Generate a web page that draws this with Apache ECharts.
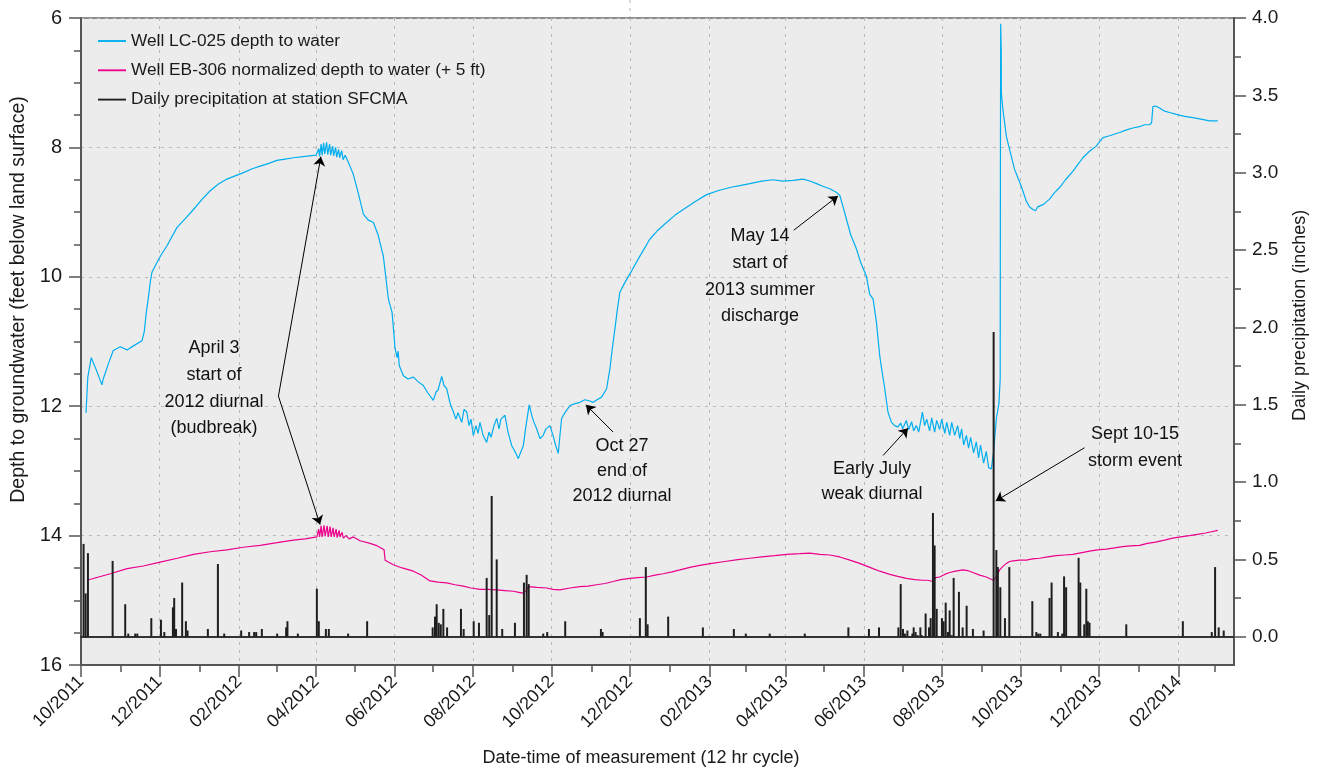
<!DOCTYPE html>
<html><head><meta charset="utf-8">
<script src="https://cdn.jsdelivr.net/npm/echarts@6/dist/echarts.min.js"></script>
<style>html,body{margin:0;padding:0;background:#fff}#c{width:1320px;height:772px}</style>
</head><body><div id="c"></div>
<script>
const FONT = '"Liberation Sans", Arial, Helvetica, sans-serif';

// x values are days since 2011-10-01
const tickLabels = ['10/2011','12/2011','02/2012','04/2012','06/2012','08/2012','10/2012','12/2012','02/2013','04/2013','06/2013','08/2013','10/2013','12/2013','02/2014'];
const minorTickLabels = ['11/2011','01/2012','03/2012','05/2012','07/2012','09/2012','11/2012','01/2013','03/2013','05/2013','07/2013','09/2013','11/2013','01/2014','03/2014'];

const seriesNames = ['Well LC-025 depth to water','Well EB-306 normalized depth to water (+ 5 ft)','Daily precipitation at station SFCMA'];

// Well LC-025 depth to water (ft)
const lc025 = [
[3.9,12.10],[5.3,11.55],[8.0,11.25],[11.1,11.40],[16.3,11.67],[17.3,11.58],[21.2,11.35],[25.1,11.14],[30.6,11.08],[35.8,11.13],
[41.4,11.06],[47.4,10.99],[49.2,10.85],[50.8,10.55],[52.3,10.34],[53.9,10.08],[55.2,9.93],[59.1,9.78],[62.4,9.66],[66.9,9.52],
[74.6,9.24],[81.1,9.10],[87.5,8.96],[94.3,8.80],[100.5,8.67],[106.7,8.57],[113.5,8.49],[119.9,8.44],[126.4,8.39],[133.2,8.33],
[139.4,8.29],[145.6,8.25],[152.4,8.20],[158.8,8.18],[165.3,8.16],[174.4,8.14],[182.9,8.12],
[184.9,8.02],[185.6,8.14],[186.8,7.95],[187.6,8.12],[188.8,7.93],[189.6,8.10],[191.1,7.92],[191.9,8.11],[193.4,7.95],[194.2,8.12],
[195.8,7.98],[196.5,8.13],[198.1,8.00],[198.9,8.15],[200.4,8.03],[201.2,8.16],[202.8,8.05],[203.9,8.19],[205.5,8.12],[207.8,8.22],
[211.9,8.42],[215.6,8.70],[219.7,9.03],[223.3,9.12],[227.5,9.16],[231.1,9.35],[235.2,9.68],[237.3,10.03],[239.1,10.34],[242.0,10.55],
[244.3,11.10],[245.9,11.25],[246.7,11.15],[247.6,11.37],[250.8,11.53],[254.4,11.58],[258.6,11.55],[262.2,11.62],[266.3,11.68],[270.0,11.80],
[274.1,11.91],[276.2,11.78],[277.8,11.75],[280.6,11.54],[282.4,11.68],[284.5,11.73],[287.1,11.95],[289.7,12.09],[291.7,12.20],[293.3,12.10],
[296.2,12.25],[298.0,12.05],[300.1,12.09],[301.9,12.30],[303.4,12.20],[305.2,12.45],[307.3,12.30],[308.9,12.42],[310.4,12.25],[312.8,12.45],
[315.6,12.56],[317.4,12.40],[319.0,12.48],[321.3,12.30],[323.4,12.19],[325.2,12.35],[326.7,12.20],[329.8,12.14],[332.2,12.40],[335.1,12.61],
[337.6,12.70],[340.2,12.81],[342.3,12.70],[344.1,12.61],[346.2,12.30],[348.7,11.98],[350.8,12.15],[352.4,12.25],[354.5,12.35],[357.1,12.50],
[359.6,12.45],[361.7,12.35],[364.8,12.30],[367.2,12.45],[369.5,12.62],[371.3,12.73],[372.6,12.45],[373.9,12.19],[376.5,12.10],[380.4,11.99],
[384.3,11.96],[388.1,11.94],[392.0,11.90],[395.9,11.92],[398.5,11.94],[401.4,11.90],[405.0,11.86],[408.9,11.73],[411.5,11.42],[413.4,11.10],
[415.4,10.80],[417.3,10.50],[419.2,10.24],[423.1,10.09],[428.6,9.90],[434.8,9.68],[442.5,9.42],[448.8,9.28],[455.5,9.16],[462.0,9.05],
[468.5,8.96],[477.6,8.84],[486.7,8.73],[495.4,8.67],[504.8,8.62],[512.5,8.59],[520.3,8.56],[529.6,8.52],[538.4,8.50],[546.0,8.52],
[554.0,8.51],[561.8,8.49],[567.0,8.52],[572.2,8.56],[577.1,8.60],[582.5,8.64],[587.2,8.69],[590.3,8.74],[592.6,8.90],[595.5,9.11],
[598.8,9.35],[603.3,9.57],[606.6,9.78],[611.0,9.99],[613.6,10.27],[616.2,10.34],[618.8,10.70],[621.4,11.22],[622.7,11.40],[625.3,11.73],
[627.8,12.09],[630.5,12.25],[633.0,12.30],[635.6,12.32],[637.7,12.26],[639.2,12.35],[642.1,12.22],[643.9,12.36],[646.2,12.24],[647.8,12.38],
[649.9,12.30],[651.7,12.40],[654.6,12.09],[656.3,12.30],[657.9,12.20],[660.2,12.38],[661.8,12.18],[664.1,12.40],[665.7,12.22],[668.0,12.36],
[669.6,12.20],[672.0,12.42],[673.5,12.25],[675.8,12.45],[677.4,12.25],[679.7,12.45],[682.0,12.30],[683.6,12.50],[685.1,12.35],[686.7,12.60],
[688.8,12.45],[690.5,12.65],[692.1,12.48],[694.4,12.72],[696.5,12.55],[698.3,12.80],[699.8,12.60],[702.2,12.88],[704.3,12.70],[706.1,12.95],
[708.2,12.97],[710.0,12.70],[712.1,12.19],[714.1,11.96],[715.1,11.58],[715.3,8.00],[715.5,6.09],[715.9,6.50],[716.0,7.16],[717.2,7.41],
[719.9,7.83],[722.4,8.03],[726.3,8.34],[731.5,8.60],[735.4,8.83],[738.0,8.92],[740.6,8.96],[742.6,8.98],[744.2,8.92],[745.7,8.95],
[748.8,8.88],[753.5,8.80],[757.4,8.70],[761.3,8.62],[765.9,8.50],[771.6,8.37],[775.3,8.27],[779.4,8.16],[784.6,8.06],[789.8,7.98],
[795.0,7.85],[800.2,7.82],[808.0,7.77],[813.4,7.73],[818.3,7.70],[823.5,7.68],[827.4,7.65],[831.3,7.65],[832.9,7.62],[833.9,7.37],
[836.0,7.36],[839.1,7.39],[843.0,7.44],[846.9,7.46],[852.1,7.49],[858.6,7.52],[865.0,7.54],[870.2,7.56],[878.0,7.59],[884.4,7.59]
];

// Well EB-306 normalized depth to water (+5 ft)
const eb306 = [
[4.7,14.69],[22.8,14.59],[35.8,14.51],[48.4,14.47],[61.6,14.41],[74.9,14.35],[87.5,14.29],[100.5,14.25],[113.5,14.22],[126.2,14.18],
[139.4,14.15],[152.6,14.11],[165.3,14.07],[174.4,14.05],[183.5,14.02],
[184.9,13.90],[185.6,14.02],[186.8,13.85],[187.6,14.02],[189.1,13.84],[189.9,14.01],[191.5,13.85],[192.3,14.02],[193.8,13.86],[194.6,14.02],
[196.1,13.88],[196.9,14.02],[198.5,13.90],[199.2,14.03],[200.8,13.92],[201.5,14.02],[203.1,13.95],[204.1,14.04],[206.2,14.00],[208.6,14.05],
[211.9,14.02],[217.1,14.08],[224.9,14.12],[229.5,14.15],[234.0,14.20],[235.8,14.22],[236.6,14.38],[243.0,14.45],[249.8,14.50],[258.6,14.55],
[264.6,14.61],[271.5,14.70],[277.8,14.72],[284.5,14.73],[291.0,14.76],[297.4,14.78],[303.4,14.81],[310.4,14.83],[316.6,14.83],[323.4,14.84],
[329.8,14.85],[336.3,14.86],[341.5,14.88],[344.1,14.89],[346.2,14.85],[348.0,14.79],[354.7,14.80],[362.3,14.81],[367.2,14.83],[372.6,14.84],
[380.4,14.81],[388.1,14.79],[394.4,14.78],[401.1,14.76],[407.6,14.74],[414.0,14.71],[420.0,14.68],[427.0,14.66],[433.2,14.65],[440.0,14.64],
[446.5,14.61],[452.9,14.59],[459.7,14.56],[465.9,14.53],[473.7,14.49],[481.4,14.46],[490.8,14.43],[500.9,14.40],[511.0,14.37],[520.3,14.35],
[529.6,14.33],[539.7,14.31],[549.1,14.29],[559.2,14.28],[567.0,14.27],[574.7,14.29],[582.5,14.30],[590.3,14.33],[598.1,14.38],[605.8,14.43],
[616.2,14.51],[621.4,14.55],[629.2,14.60],[635.4,14.63],[642.1,14.66],[648.6,14.68],[655.0,14.69],[658.7,14.69],[662.8,14.71],[664.9,14.65],
[668.0,14.64],[671.9,14.60],[675.8,14.57],[680.4,14.55],[686.1,14.53],[689.8,14.54],[693.9,14.57],[699.1,14.61],[704.3,14.64],[707.6,14.67],
[710.0,14.69],[712.4,14.62],[714.7,14.53],[717.0,14.48],[719.9,14.43],[722.4,14.40],[725.0,14.39],[730.2,14.38],[735.4,14.38],[740.3,14.36],
[745.7,14.35],[752.0,14.33],[758.7,14.31],[765.2,14.30],[771.6,14.29],[776.8,14.27],[784.6,14.24],[790.8,14.22],[797.6,14.21],[804.0,14.19],
[810.2,14.17],[816.4,14.16],[823.5,14.15],[829.7,14.12],[835.9,14.10],[842.9,14.07],[849.4,14.04],[855.4,14.02],[862.4,14.00],[868.6,13.98],
[874.8,13.96],[879.4,13.94],[884.4,13.92]
];

// Daily precipitation (inches)
const precip = [
[2.0,0.60],[3.6,0.28],[5.4,0.54],[24.6,0.49],[34.4,0.21],[36.8,0.02],[42.2,0.02],[43.8,0.02],[54.7,0.12],[62.2,0.11],
[64.8,0.03],[71.5,0.19],[72.5,0.25],[73.9,0.05],[78.7,0.35],[81.6,0.10],[82.9,0.04],[98.7,0.05],[106.5,0.47],[111.4,0.02],
[124.6,0.04],[130.8,0.03],[134.7,0.03],[136.3,0.03],[140.7,0.05],[152.6,0.02],[159.6,0.06],[160.6,0.10],[168.7,0.02],[183.5,0.31],
[185.0,0.10],[190.5,0.05],[192.8,0.05],[207.8,0.02],[222.6,0.10],[273.6,0.06],[275.4,0.13],[276.7,0.21],[278.3,0.09],[279.9,0.08],
[281.9,0.18],[284.8,0.06],[295.6,0.18],[297.7,0.05],[305.5,0.10],[309.6,0.09],[315.6,0.38],[317.6,0.14],[319.5,0.91],[323.4,0.50],
[327.7,0.05],[337.6,0.09],[344.6,0.35],[346.7,0.40],[348.3,0.34],[359.6,0.02],[362.7,0.03],[376.7,0.10],[404.5,0.05],[405.8,0.03],
[434.8,0.12],[439.4,0.45],[440.8,0.08],[456.8,0.13],[483.8,0.06],[507.9,0.05],[517.2,0.02],[535.8,0.02],[563.1,0.02],[597.0,0.06],
[613.0,0.05],[620.8,0.06],[635.9,0.06],[637.7,0.34],[639.5,0.05],[641.0,0.02],[642.9,0.04],[646.8,0.02],[647.8,0.06],[649.3,0.03],
[650.9,0.01],[653.0,0.06],[654.0,0.01],[657.1,0.15],[659.7,0.06],[661.0,0.12],[662.8,0.80],[664.1,0.59],[665.7,0.18],[669.8,0.12],
[671.1,0.10],[672.7,0.22],[674.5,0.03],[675.8,0.17],[677.3,0.01],[678.9,0.38],[683.0,0.29],[685.9,0.06],[689.0,0.20],[693.9,0.05],
[702.2,0.04],[710.0,1.97],[712.1,0.56],[713.3,0.45],[715.2,0.32],[718.8,0.12],[722.2,0.45],[740.1,0.23],[743.2,0.03],[744.7,0.02],
[746.3,0.02],[753.5,0.25],[755.1,0.35],[760.0,0.03],[763.4,0.02],[764.8,0.39],[766.4,0.32],[776.1,0.51],[777.4,0.35],[780.5,0.08],
[782.1,0.31],[783.3,0.10],[784.6,0.09],[813.2,0.08],[857.2,0.10],[879.7,0.03],[882.3,0.45],[885.1,0.06],[889.0,0.04]
];

function monthToDay(label) {
  const p = label.split('/').map(Number);
  return (Date.UTC(p[1], p[0] - 1, 1) - Date.UTC(2011, 9, 1)) / 864e5;
}
const majorDays = tickLabels.map(monthToDay);
const minorDays = minorTickLabels.map(monthToDay);
const labelByDay = {};
tickLabels.forEach((l, i) => { labelByDay[majorDays[i]] = l; });

const X_MAX = 897;
const AXIS_COLOR = '#555';
const GRID_LINE = { color: '#b8b8b8', type: [3, 5], width: 1 };
const LINE_ICON = 'path://M0 0H30V2H0Z';

// annotation arrows: [tailDay, tailDepth, tipDay, tipDepth]
const arrows = [
  [153.6, 11.845, 186.6, 8.144],
  [153.6, 11.845, 186.0, 13.830],
  [414.0, 12.400, 392.8, 11.979],
  [554.5, 9.280, 588.9, 8.751],
  [624.0, 12.761, 643.4, 12.339],
  [780.7, 12.642, 711.6, 13.465]
];

const annoFont = 18;
function annoText(x, y, text, lh) {
  return { type: 'text', silent: true, z: 100,
    style: { x: x, y: y, text: text, fill: '#111', fontSize: annoFont, fontFamily: FONT,
      textAlign: 'center', textVerticalAlign: 'top', lineHeight: lh } };
}

const chart = echarts.init(document.getElementById('c'), null, { renderer: 'canvas' });
chart.setOption({
  animation: false,
  backgroundColor: '#ffffff',
  textStyle: { fontFamily: FONT },
  grid: [
    { left: 81, right: 86, top: 18, bottom: 105, show: true, backgroundColor: '#ececec', borderColor: '#222', borderWidth: 1 },
    { left: 81, right: 86, top: 18, bottom: 135.3, show: false }
  ],
  legend: {
    orient: 'vertical', left: 98, top: 31, padding: 0, itemGap: 9.3,
    itemWidth: 28, itemHeight: 14,
    textStyle: { fontSize: 17.3, fontFamily: FONT, color: '#1a1a1a', lineHeight: 20 },
    data: [
      { name: seriesNames[0], icon: LINE_ICON },
      { name: seriesNames[1], icon: LINE_ICON },
      { name: seriesNames[2], icon: LINE_ICON }
    ]
  },
  xAxis: [
    { type: 'value', gridIndex: 0, min: 0, max: X_MAX, position: 'bottom',
      axisLine: { show: true, onZero: false, lineStyle: { color: AXIS_COLOR, width: 2 } },
      axisTick: { show: true, customValues: majorDays, length: 12, lineStyle: { color: AXIS_COLOR, width: 1.5 } },
      axisLabel: { show: true, customValues: majorDays, rotate: 45, margin: 14, fontSize: 18, color: '#1a1a1a', fontFamily: FONT,
        formatter: v => labelByDay[Math.round(v)] || '' },
      splitLine: { show: true, lineStyle: GRID_LINE },
      name: 'Date-time of measurement (12 hr cycle)', nameLocation: 'middle', nameGap: 84,
      nameTextStyle: { fontSize: 18, fontFamily: FONT, color: '#1a1a1a', padding: [0, 33, 0, 0] }
    },
    { type: 'value', gridIndex: 0, min: 0, max: X_MAX, position: 'bottom',
      axisLine: { show: false, onZero: false },
      axisTick: { show: true, customValues: minorDays, length: 7, lineStyle: { color: AXIS_COLOR, width: 1.5 } },
      axisLabel: { show: false }, splitLine: { show: false }
    },
    { type: 'value', gridIndex: 1, min: 0, max: X_MAX, position: 'bottom',
      axisLine: { show: true, onZero: false, lineStyle: { color: '#333', width: 2 } },
      axisTick: { show: false }, axisLabel: { show: false }, splitLine: { show: false }
    }
  ],
  yAxis: [
    { type: 'value', gridIndex: 0, inverse: true, min: 6, max: 16, interval: 2, position: 'left',
      axisLine: { show: true, onZero: false, lineStyle: { color: AXIS_COLOR, width: 2 } },
      axisTick: { show: true, length: 12, lineStyle: { color: AXIS_COLOR, width: 1.5 } },
      minorTick: { show: true, splitNumber: 4, length: 7, lineStyle: { color: AXIS_COLOR, width: 1.5 } },
      axisLabel: { fontSize: 20, margin: 19, color: '#1a1a1a', fontFamily: FONT },
      splitLine: { show: true, lineStyle: GRID_LINE },
      name: 'Depth to groundwater (feet below land surface)', nameLocation: 'middle', nameGap: 50,
      nameTextStyle: { fontSize: 19.5, fontFamily: FONT, color: '#1a1a1a', padding: [0, 0, 0, 84] }
    },
    { type: 'value', gridIndex: 1, min: 0, max: 4, interval: 0.5, position: 'right',
      axisLine: { show: true, onZero: false, lineStyle: { color: AXIS_COLOR, width: 2 } },
      axisTick: { show: true, length: 12, lineStyle: { color: AXIS_COLOR, width: 1.5 } },
      minorTick: { show: true, splitNumber: 2, length: 7, lineStyle: { color: AXIS_COLOR, width: 1.5 } },
      axisLabel: { fontSize: 19, margin: 18, color: '#1a1a1a', fontFamily: FONT, formatter: v => v.toFixed(1) },
      splitLine: { show: false },
      name: 'Daily precipitation (inches)', nameLocation: 'middle', nameGap: 57, nameRotate: 90,
      nameTextStyle: { fontSize: 18, fontFamily: FONT, color: '#1a1a1a', padding: [0, 0, 0, 24] }
    },
    { type: 'value', gridIndex: 0, min: 0, max: 1, position: 'right',
      axisLine: { show: true, onZero: false, lineStyle: { color: AXIS_COLOR, width: 2 } },
      axisTick: { show: false }, axisLabel: { show: false }, splitLine: { show: false }
    }
  ],
  series: [
    { name: seriesNames[0], type: 'line', xAxisIndex: 0, yAxisIndex: 0, data: lc025,
      symbol: 'none', lineStyle: { color: '#00aeef', width: 1.2 }, itemStyle: { color: '#00aeef' },
      markLine: { silent: true, symbol: ['none', 'arrow'], symbolSize: 9, animation: false,
        lineStyle: { color: '#000', width: 1, type: 'solid' }, itemStyle: { color: '#000' }, label: { show: false },
        data: arrows.map(a => [{ coord: [a[0], a[1]] }, { coord: [a[2], a[3]] }]) }
    },
    { name: seriesNames[1], type: 'line', xAxisIndex: 0, yAxisIndex: 0, data: eb306,
      symbol: 'none', lineStyle: { color: '#ec008c', width: 1.2 }, itemStyle: { color: '#ec008c' }
    },
    { name: seriesNames[2], type: 'bar', xAxisIndex: 2, yAxisIndex: 1, data: precip,
      barWidth: 2, itemStyle: { color: '#1e1e1e' }, z: 5
    }
  ],
  graphic: [
    { type: 'line', silent: true, shape: { x1: 630, y1: 0, x2: 630, y2: 17 }, style: { stroke: '#b8b8b8', lineDash: [3, 5], lineWidth: 1 } },
    annoText(214, 335, 'April 3\nstart of\n2012 diurnal\n(budbreak)', 26.7),
    annoText(622, 434, 'Oct 27\nend of\n2012 diurnal', 25),
    annoText(760, 223, 'May 14\nstart of\n2013 summer\ndischarge', 26.7),
    annoText(872, 457, 'Early July\nweak diurnal', 25),
    annoText(1135, 421, 'Sept 10-15\nstorm event', 27)
  ]
});
</script>
</body></html>
